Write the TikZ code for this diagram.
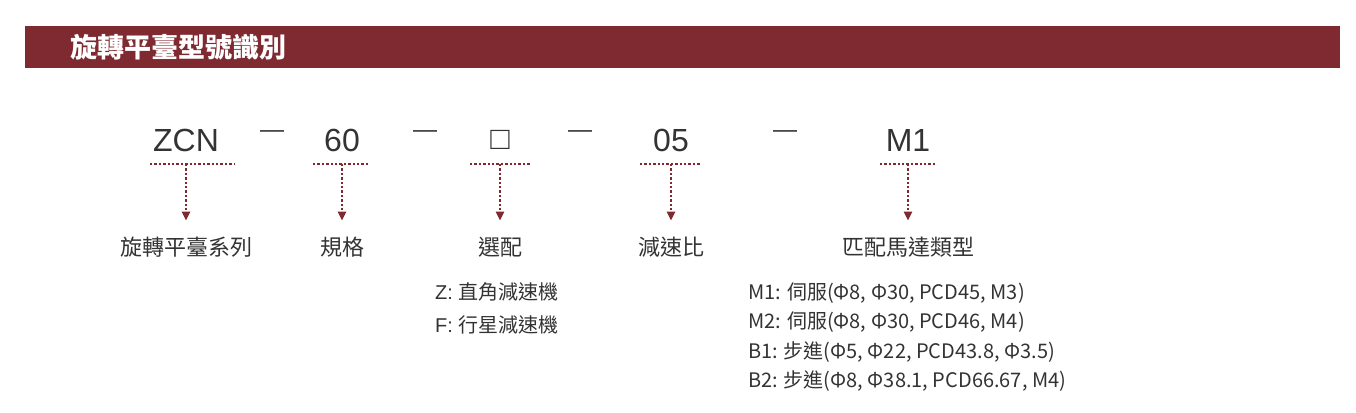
\documentclass[tikz,border=0pt]{standalone}
\usepackage{fontspec}
\setmainfont{Noto Sans CJK TC}
\newfontfamily\latinf{Liberation Sans}
\usetikzlibrary{arrows.meta}
\definecolor{brand}{HTML}{7F2A30}
\definecolor{txt}{HTML}{333333}
\begin{document}
\begin{tikzpicture}[x=1pt,y=-1pt,
  code/.style={font=\latinf\fontsize{32}{32}\selectfont,text=txt,inner sep=0},
  dashsep/.style={font=\latinf\fontsize{30}{30}\selectfont,text=txt,inner sep=0},
  lab/.style={font=\fontsize{22}{22}\selectfont,text=txt,inner sep=0},
  item/.style={font=\fontsize{20}{20}\selectfont,text=txt,inner sep=0,anchor=west},
  dot/.style={brand,line width=2.4pt,dotted},
  arr/.style={brand,line width=2.4pt,dotted,-{Triangle[width=8pt,length=9pt]}}]
\useasboundingbox (0,0) rectangle (1356,412);
\fill[brand] (25,26) rectangle (1340,68);
\node[font=\bfseries\fontsize{27}{27}\selectfont,text=white,anchor=west,inner sep=0] (title) at (70,47) {旋轉平臺型號識別};
\foreach \n/\x/\t/\l/\r/\lab in {a/186/ZCN/150/235/旋轉平臺系列, b/342/60/313/370/規格, c/500/{□}/470/530/選配, d/671/05/640/700/減速比, e/908/M1/880/935/匹配馬達類型}{
  \node[code] (\n) at (\x,140) {\t};
  \coordinate (\n l) at (\l,164); \coordinate (\n r) at (\r,164);
  \coordinate (\n m) at (\x,164);
  \node[lab] (\n t) at (\x,247) {\lab};
  \draw[dot] (\n l) -- (\n r);
  \draw[arr] (\n m) -- ([yshift=16pt]\n t.north);
}
\foreach \x in {272,425,580,785}{\node[dashsep] at (\x,134) {\fontsize{24}{24}\selectfont —};}
\node[item] (z) at (435,292) {\latinf Z: \rmfamily 直角減速機};
\node[item] (f) at (435,325) {\latinf F: \rmfamily 行星減速機};
\node[item] (m1) at (748,293) {M1: 伺服(Φ8, Φ30, PCD45, M3)};
\node[item] (m2) at (748,322) {M2: 伺服(Φ8, Φ30, PCD46, M4)};
\node[item] (b1) at (748,352) {B1: 步進(Φ5, Φ22, PCD43.8, Φ3.5)};
\node[item] (b2) at (748,381) {B2: 步進(Φ8, Φ38.1, PCD66.67, M4)};
\end{tikzpicture}
\end{document}
